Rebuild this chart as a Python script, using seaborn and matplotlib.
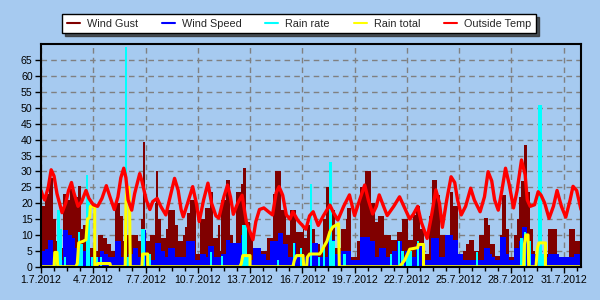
import matplotlib
matplotlib.use("Agg")
import matplotlib.pyplot as plt
import seaborn as sns
import pandas as pd
from matplotlib.lines import Line2D
from matplotlib.ticker import MultipleLocator

# ---------------- data (hours since 1.7.2012 00:00) ----------------
series_names = ["Wind Gust", "Wind Speed", "Rain rate", "Rain total", "Outside Temp"]
day_labels = ["1.7.2012", "4.7.2012", "7.7.2012", "10.7.2012", "13.7.2012", "16.7.2012",
              "19.7.2012", "22.7.2012", "25.7.2012", "28.7.2012", "31.7.2012"]
label_days = [0, 3, 6, 9, 12, 15, 18, 21, 24, 27, 30]
y_ticks = [0, 5, 10, 15, 20, 25, 30, 35, 40, 45, 50, 55, 60, 65]

temp_hours = [0, 3, 5, 10, 14, 18, 22, 29, 34, 38, 42, 45, 51, 56, 62, 66, 72, 78, 84, 90,
              95, 101, 106, 110, 114, 117, 120, 125, 129, 136, 139, 145, 150, 154, 160, 165, 172, 178, 184, 189,
              193, 196, 202, 209, 214, 218, 224, 230, 235, 241, 245, 252, 257, 261, 265, 271, 277, 283, 292, 296,
              301, 307, 315, 319, 324, 328, 333, 338, 343, 347, 354, 365, 370, 375, 382, 389, 398, 403, 409, 417,
              425, 432, 439, 446, 451, 457, 462, 466, 472, 477, 486, 494, 501, 508, 513, 519, 524, 532, 538, 544,
              549, 553, 559, 565, 570, 574, 579, 585, 592, 597, 605, 611, 616, 621, 625, 630, 635, 640, 645, 651,
              656, 662, 667, 670, 674, 680, 685, 689, 694, 700, 706, 711, 717, 723, 729, 733, 738, 744]
temp_vals = [24, 22, 21, 25, 30.5, 28.5, 23, 17, 20, 24, 26.5, 23.5, 19, 20.5, 24, 21.5, 19.5, 19, 21.5, 25.5,
             22, 18, 22, 28, 31, 28, 21, 17.8, 23, 29.3, 27, 21, 18, 20.5, 21.5, 19, 16.3, 22, 27.8, 24,
             18, 15.7, 20, 25.2, 20, 14.2, 21, 26.3, 20, 16, 15.3, 22, 25.7, 22, 16.5, 20, 22.5, 14, 8.5, 14.2,
             18, 18.5, 17, 16.3, 23.3, 25.2, 22.5, 16.3, 15, 17.3, 14.5, 11.8, 16, 17.3, 13, 16, 19.4, 17, 14.7, 19,
             22.6, 16.1, 21, 25.7, 21, 16.6, 19, 22.6, 19, 16.1, 19, 22, 18.5, 15, 16.5, 19, 14, 8.9, 16, 24.2,
             20, 12.4, 21, 28.3, 26.5, 21, 16.3, 19, 24.7, 21, 17.3, 22, 29.9, 27, 21, 17.8, 24, 31, 26, 18.5,
             24, 33.6, 29, 21, 19, 19.5, 23.6, 22.5, 20, 15.2, 19, 24, 19, 15.6, 21, 25.3, 24, 18]

gust_hours = [0, 6, 11, 17, 21, 26, 30, 34, 40, 45, 51, 55, 58, 65, 67, 73, 78, 85, 91, 96,
              102, 109, 113, 118, 133, 138, 140, 143, 150, 157, 159, 161, 166, 172, 175, 184, 189, 195, 198, 201,
              205, 213, 219, 226, 233, 237, 244, 246, 248, 255, 260, 264, 268, 275, 278, 283, 288, 292, 301, 312,
              319, 323, 330, 337, 343, 351, 361, 363, 367, 373, 377, 385, 389, 392, 398, 405, 413, 420, 422, 427,
              435, 439, 447, 454, 460, 464, 473, 482, 491, 498, 505, 512, 516, 522, 528, 535, 539, 546, 550, 557,
              563, 567, 574, 581, 585, 590, 597, 604, 611, 616, 619, 625, 633, 635, 640, 645, 652, 656, 659, 662,
              666, 670, 674, 678, 681, 698, 711, 728, 736]
gust_vals = [19, 23, 28, 15, 8, 6, 23, 21, 24.5, 22, 25.5, 12, 13, 8, 6, 5, 10, 9, 7, 5,
             20, 16, 8, 10, 8, 15, 39.4, 8, 10, 20, 30, 15, 9, 12, 17.9, 13, 8, 10, 12.5, 17,
             21, 4, 15, 18.4, 23.6, 9, 13, 5, 21, 27.3, 10, 6, 23.6, 26, 31, 14, 10, 6, 5, 9,
             23, 30, 18, 10, 18, 11, 12, 9, 13, 12, 7, 5, 15, 25.2, 18, 6, 12, 15, 18.4, 3,
             8, 25, 30, 20, 14, 16, 10, 8.5, 11, 15, 8.5, 16.3, 19, 12, 4, 16, 27.3, 22.6, 10, 8,
             23.6, 19, 4, 5, 7, 8.5, 5, 10, 15.2, 13, 7, 3.5, 10, 22.6, 12, 3, 10, 15, 22, 27,
             38.3, 23.6, 12, 5, 4, 12, 3, 12, 8]

speed_hours = [0, 6, 10, 17, 21, 26, 30, 37, 43, 47, 54, 58, 62, 81, 87, 92, 102, 110, 116, 120,
               127, 133, 138, 144, 150, 157, 165, 171, 175, 184, 200, 212, 219, 227, 230, 239, 248, 255, 261, 275,
               282, 292, 303, 310, 316, 326, 333, 340, 347, 351, 361, 374, 381, 395, 405, 413, 427, 439, 453, 460,
               466, 475, 484, 491, 497, 502, 509, 516, 526, 537, 549, 557, 567, 574, 581, 611, 618, 622, 626, 633,
               640, 645, 652, 659, 663, 670, 674, 681, 688, 698, 714, 735]
speed_vals = [5, 5.5, 8.5, 2, 1, 2, 11.5, 10, 9, 6, 3, 5, 3, 5, 4, 3, 8, 3, 2, 4,
              6, 3, 11.5, 4, 2, 7.5, 5, 3, 6, 3, 8, 2, 4, 3, 6.5, 3, 4, 8.5, 7.5, 10,
              2, 6, 4, 2, 8, 10.6, 7, 3, 7.5, 4, 3, 7.5, 3, 8.5, 4, 5, 2, 9.5, 8, 3,
              6, 3, 5, 8, 3, 5, 3, 7, 2, 9, 3, 10, 8.5, 4, 2, 6, 4, 3, 2, 9.5,
              4, 2, 6, 8, 12.5, 8, 4, 2, 3, 4, 3, 4]

rate_hours = [19, 24, 27, 33, 52, 56, 63, 66, 70, 77, 83, 117, 120, 139, 142, 150, 234, 249, 279, 282,
              285, 327, 349, 358, 361, 372, 383, 390, 399, 403, 418, 482, 493, 498, 505, 509, 519, 601, 662, 667,
              673, 686, 689, 692]
rate_vals = [2, 18, 12, 3, 11, 7, 29, 22, 3, 3, 3, 69, 3, 12, 12, 4, 4.5, 3.5, 13, 13,
             3, 2, 7.5, 6, 4, 26, 3, 6, 33, 8, 4, 4, 8, 5, 4, 5, 8, 4.5, 9, 11,
             8, 51, 51, 4]

total_hours = [0, 18, 19, 22, 23, 48, 50, 52, 58, 62, 64, 67, 68, 74, 74, 77, 78, 95, 96, 116,
               117, 118, 121, 122, 123, 139, 140, 147, 147, 274, 276, 278, 288, 288, 347, 349, 352, 361, 362, 366,
               367, 370, 384, 387, 389, 394, 398, 402, 410, 411, 494, 501, 505, 508, 519, 520, 527, 527, 665, 666,
               668, 671, 672, 682, 684, 686, 695, 695, 744]
total_vals = [0, 0, 4.5, 4.5, 0, 0, 1, 7.5, 8, 8.5, 15, 15.5, 19, 19, 0, 0, 1, 1, 0, 0,
              19, 25, 25, 20, 0, 0, 4, 4, 0, 0, 1, 3.5, 3.5, 0, 0, 2, 3.5, 3.5, 0, 0,
              3, 4, 4, 5, 6, 8, 11, 12.5, 13.5, 0, 0, 2, 4, 5.5, 6, 7, 7, 0, 0, 7,
              10, 10, 0, 0, 6, 7.5, 7.5, 0, 0]

# ---------------- style ----------------
BG = "#A6CAF0"
C_GUST, C_SPEED, C_RATE, C_TOTAL, C_TEMP = "#800000", "#0000FF", "#00FFFF", "#FFFF00", "#FF0000"
colors = [C_GUST, C_SPEED, C_RATE, C_TOTAL, C_TEMP]

sns.set_style("white", {"axes.facecolor": BG, "figure.facecolor": BG,
                        "axes.edgecolor": "black"})
plt.rcParams["font.family"] = ["Liberation Sans", "DejaVu Sans"]

END = 24 * 31
fig = plt.figure(figsize=(6, 3), dpi=100)
ax = fig.add_axes([41 / 600, 1 - 266.7 / 300, 540 / 600, (266.7 - 44.3) / 300])

gh = gust_hours + [END]
gv = gust_vals + [gust_vals[-1]]
ax.fill_between(gh, 0, gv, step="post", color=C_GUST, lw=0, zorder=2)
sh = speed_hours + [END]
sv = speed_vals + [speed_vals[-1]]
ax.fill_between(sh, 0, sv, step="post", color=C_SPEED, lw=0, zorder=3)
ax.bar(rate_hours, rate_vals, width=3.2, color=C_RATE, lw=0, zorder=4)

df_total = pd.DataFrame({"hour": total_hours, "total": total_vals})
sns.lineplot(data=df_total, x="hour", y="total", estimator=None, sort=False,
             color=C_TOTAL, lw=2.2, ax=ax, zorder=5, legend=False)
df_temp = pd.DataFrame({"hour": temp_hours, "temp": temp_vals})
sns.lineplot(data=df_temp, x="hour", y="temp", estimator=None, sort=False,
             color=C_TEMP, lw=2.4, ax=ax, zorder=6, legend=False,
             solid_joinstyle="round", solid_capstyle="round")

ax.set_xlim(0, END)
ax.set_ylim(0, 70)
ax.set_xlabel("")
ax.set_ylabel("")
ax.set_xticks([d * 24 for d in label_days])
ax.set_xticklabels(day_labels)
ax.xaxis.set_minor_locator(MultipleLocator(18))
ax.set_yticks(y_ticks)
ax.tick_params(axis="both", which="both", direction="out", bottom=True, left=True,
               color="black", width=1, labelsize=7.6, labelcolor="black")
ax.tick_params(axis="both", which="major", length=4, pad=2)
ax.tick_params(axis="x", which="minor", length=3)
ax.grid(True, which="major", color="#808080", linestyle=(0, (4, 3)), lw=1)
ax.set_axisbelow(True)
for s in ax.spines.values():
    s.set_color("black")
    s.set_linewidth(1.5)
    s.set_zorder(7)

handles = [Line2D([0], [0], color=c, lw=1.5) for c in colors]
leg = fig.legend(handles, series_names, loc="upper left",
                 bbox_to_anchor=(62 / 600, 1 - 14 / 300), bbox_transform=fig.transFigure,
                 ncol=5, frameon=True, fancybox=False,
                 shadow={"color": "#303030", "alpha": 0.8},
                 fontsize=7.8, handlelength=1.2, handletextpad=0.65,
                 columnspacing=2.2, borderpad=0.42, borderaxespad=0)
leg.get_frame().set_facecolor("white")
leg.get_frame().set_edgecolor("black")
leg.get_frame().set_linewidth(1)
leg.get_frame().set_alpha(1)

fig.savefig("out.png", dpi=100, facecolor=BG)
